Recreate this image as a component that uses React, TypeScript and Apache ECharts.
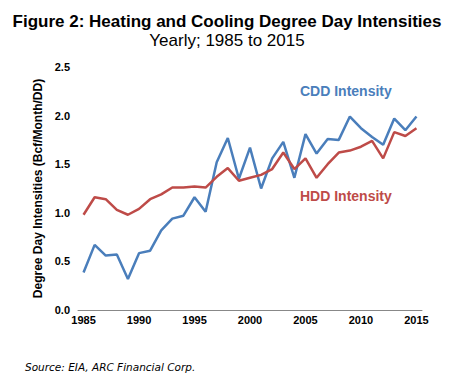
import React, { useEffect, useRef } from "react";
import * as echarts from "echarts";

const years: string[] = [
  "1985","1986","1987","1988","1989","1990","1991","1992","1993","1994",
  "1995","1996","1997","1998","1999","2000","2001","2002","2003","2004",
  "2005","2006","2007","2008","2009","2010","2011","2012","2013","2014","2015",
];

const cddIntensity: number[] = [
  0.385, 0.67, 0.56, 0.57, 0.32, 0.585, 0.61, 0.82, 0.94, 0.97,
  1.16, 1.01, 1.52, 1.77, 1.35, 1.67, 1.25, 1.56, 1.73, 1.36,
  1.81, 1.61, 1.76, 1.75, 1.99, 1.87, 1.78, 1.70, 1.97, 1.85, 1.99,
];

const hddIntensity: number[] = [
  0.98, 1.16, 1.14, 1.03, 0.98, 1.04, 1.14, 1.19, 1.26, 1.26,
  1.27, 1.26, 1.37, 1.46, 1.33, 1.36, 1.39, 1.45, 1.62, 1.45,
  1.56, 1.36, 1.50, 1.62, 1.64, 1.68, 1.74, 1.56, 1.83, 1.79, 1.87,
];

const BLUE = "#4a7ebb";
const RED = "#be4b48";

export default function App() {
  const ref = useRef<HTMLDivElement>(null);
  useEffect(() => {
    if (!ref.current) return;
    const chart = echarts.init(ref.current, null, { renderer: "svg" });
    chart.setOption({
      animation: false,
      backgroundColor: "#ffffff",
      title: [
        {
          text: "Figure 2: Heating and Cooling Degree Day Intensities",
          left: "center",
          top: 8,
          textStyle: { fontFamily: "Liberation Sans, Arial", fontSize: 17, fontWeight: "bold", color: "#000" },
        },
        {
          text: "Yearly; 1985 to 2015",
          left: "center",
          top: 27,
          textStyle: { fontFamily: "Liberation Sans, Arial", fontSize: 17, fontWeight: "normal", color: "#000" },
        },
      ],
      grid: { left: 78, right: 32, top: 67, bottom: 68 },
      xAxis: {
        type: "category",
        data: years,
        boundaryGap: true,
        axisLine: { lineStyle: { color: "#888", width: 1 } },
        axisTick: { interval: 4, length: 4, lineStyle: { color: "#888" } },
        axisLabel: {
          interval: 4,
          color: "#000",
          fontFamily: "Liberation Sans, Arial",
          fontSize: 11,
          fontWeight: "bold",
          margin: 4,
        },
      },
      yAxis: {
        type: "value",
        min: 0,
        max: 2.5,
        interval: 0.5,
        name: "Degree Day Intensities (Bcf/Month/DD)",
        nameLocation: "middle",
        nameGap: 33,
        nameTextStyle: { fontFamily: "Liberation Sans, Arial", fontSize: 12, fontWeight: "bold", color: "#000" },
        axisLine: { show: false },
        axisTick: { show: false },
        splitLine: { show: false },
        axisLabel: {
          color: "#000",
          fontFamily: "Liberation Sans, Arial",
          fontSize: 11,
          fontWeight: "bold",
          margin: 8,
          formatter: (v: number) => v.toFixed(1),
        },
      },
      series: [
        {
          name: "CDD Intensity",
          type: "line",
          data: cddIntensity,
          symbol: "none",
          lineStyle: { color: BLUE, width: 2.5 },
          itemStyle: { color: BLUE },
        },
        {
          name: "HDD Intensity",
          type: "line",
          data: hddIntensity,
          symbol: "none",
          lineStyle: { color: RED, width: 2.5 },
          itemStyle: { color: RED },
        },
      ],
      graphic: [
        {
          type: "text",
          left: 300,
          top: 84,
          style: { text: "CDD Intensity", fill: BLUE, font: "bold 14px 'Liberation Sans', Arial" },
        },
        {
          type: "text",
          left: 300,
          top: 189,
          style: { text: "HDD Intensity", fill: RED, font: "bold 14px 'Liberation Sans', Arial" },
        },
        {
          type: "text",
          left: 25,
          top: 361,
          style: { text: "Source: EIA, ARC Financial Corp.", fill: "#000", font: "italic 10.5px 'DejaVu Sans'" },
        },
      ],
    });
    return () => chart.dispose();
  }, []);
  return <div ref={ref} style={{ width: 454, height: 378, position: "absolute", left: 0, top: 0 }} />;
}
